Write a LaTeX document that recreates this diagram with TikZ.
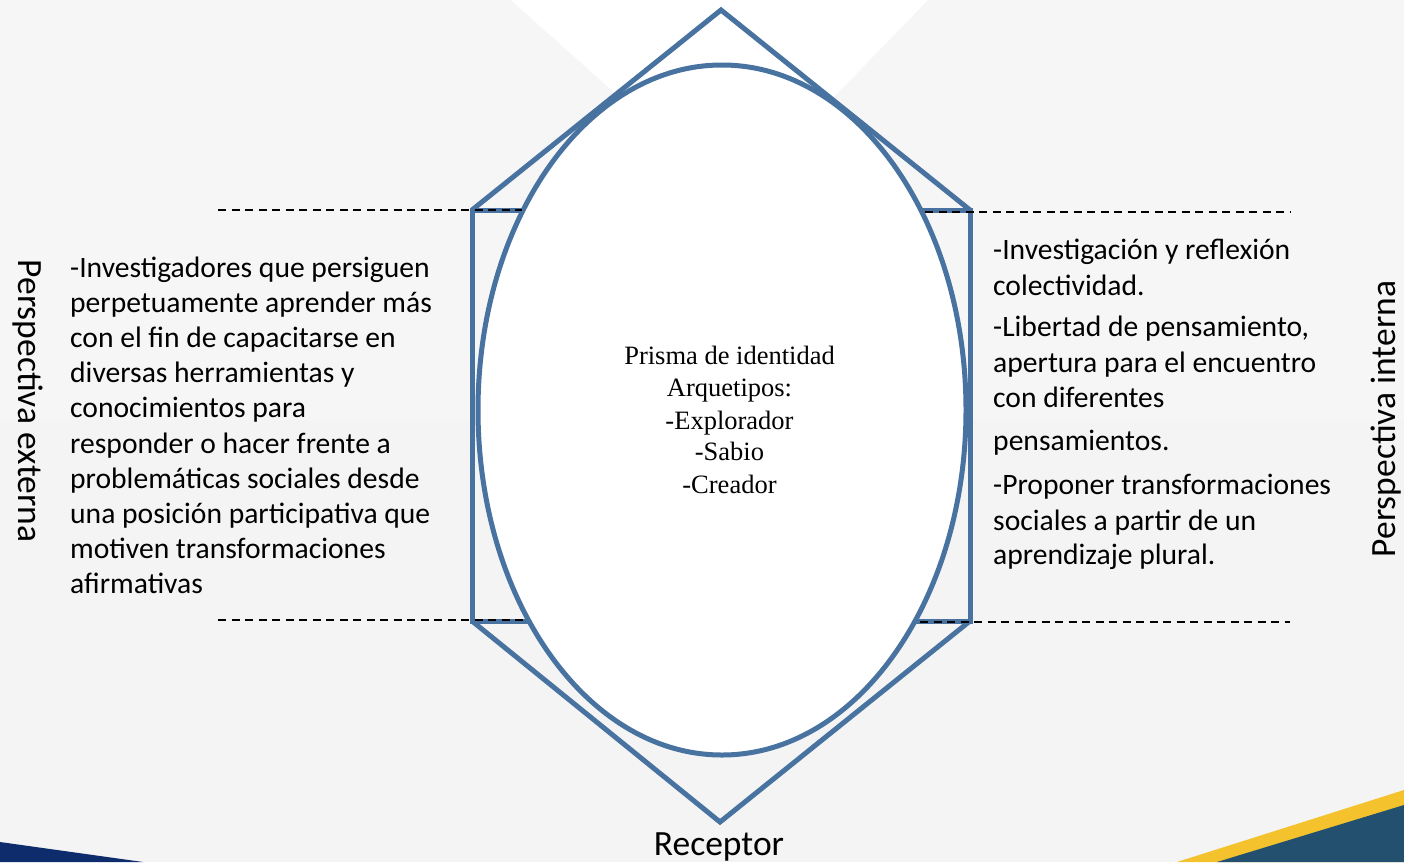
\documentclass[tikz,border=0pt]{standalone}
\usepackage{fontspec}
\setmainfont{Carlito}
\newfontfamily\timesf{Liberation Serif}
\usetikzlibrary{shapes.geometric}
\definecolor{bg}{HTML}{F4F4F4}
\definecolor{bglight}{HTML}{F6F6F6}
\definecolor{prism}{HTML}{4873A0}
\definecolor{navy}{HTML}{0E2C6C}
\definecolor{gold}{HTML}{F3C22C}
\definecolor{teal}{HTML}{23506F}
\tikzset{
  prismline/.style={draw=prism, line width=5pt, line join=miter},
  guide/.style={draw=black, line width=1.6pt, dash pattern=on 8pt off 5.5pt},
  bodytext/.style={inner sep=0pt, anchor=base west, font=\fontsize{29.6}{35}\selectfont},
  sidelabel/.style={inner sep=0pt, font=\fontsize{35.5}{40}\selectfont},
  centertext/.style={inner sep=0pt, anchor=base, font=\timesf\fontsize{26.5}{32}\selectfont}
}
\begin{document}
\begin{tikzpicture}[x=1pt,y=-1pt]
% background
\fill[bg] (0,0) rectangle (1404,862);
\useasboundingbox (0,0) rectangle (1404,862);
\fill[bglight] (0,0) -- (1404,0) -- (1404,420) -- (0,420) -- cycle;
\fill[white] (511,0) -- (928,0) -- (734,200) -- cycle;
\fill[navy] (0,842) -- (143,862) -- (0,862) -- cycle;
\fill[gold] (1404,790) -- (1404,862) -- (1177,862) -- cycle;
\fill[teal] (1404,805) -- (1404,862) -- (1217,862) -- cycle;

% prism outline
\coordinate (apexT) at (721,10);
\coordinate (apexB) at (720,822);
\coordinate (tl) at (472,210);
\coordinate (tr) at (970,210);
\coordinate (bl) at (472,621);
\coordinate (br) at (970,621);
\draw[prismline] (tl) rectangle (br);
\draw[prismline] (tl) -- (apexT) -- (tr);
\draw[prismline] (bl) -- (apexB) -- (br);
\node[prismline, fill=white, ellipse, minimum width=488pt, minimum height=690pt, inner sep=0pt] (prisma) at (722,410) {};

% dashed guides
\coordinate (g1a) at (218,210); \coordinate (g1b) at (522,210);
\coordinate (g2a) at (925,212); \coordinate (g2b) at (1290,212);
\coordinate (g3a) at (218,620); \coordinate (g3b) at (525,620);
\coordinate (g4a) at (920,622); \coordinate (g4b) at (1290,622);
\draw[guide] (g1a) -- (g1b);
\draw[guide] (g2a) -- (g2b);
\draw[guide] (g3a) -- (g3b);
\draw[guide] (g4a) -- (g4b);

% center text
\foreach \yy/\t [count=\i] in {364/Prisma de identidad, 396/Arquetipos:, 429/-Explorador, 460/-Sabio, 493/-Creador}
  \node[centertext] (c\i) at (729.5,\yy) {\t};

% left text
\foreach \yy/\t [count=\i] in {277/-Investigadores que persiguen, 312/perpetuamente aprender más, 347/con el fin de capacitarse en, 382/diversas herramientas y, 417/conocimientos para, 453/responder o hacer frente a, 488/problemáticas sociales desde, 523/una posición participativa que, 558/motiven transformaciones, 593/afirmativas}
  \node[bodytext] (l\i) at (70,\yy) {\t};

% right text
\foreach \yy/\t [count=\i] in {259/-Investigación y reflexión, 295/colectividad., 336/{-Libertad de pensamiento,}, 372/apertura para el encuentro, 407/con diferentes, 450/pensamientos., 494/-Proponer transformaciones, 530/sociales a partir de un, 564/aprendizaje plural.}
  \node[bodytext] (r\i) at (993,\yy) {\t};

% side labels
\node[sidelabel, rotate=-90] (ext) at (28,401) {Perspectiva externa};
\node[sidelabel, rotate=90] (int) at (1386,419) {Perspectiva interna};
\node[sidelabel, anchor=base] (rec) at (719,855) {Receptor};
\end{tikzpicture}
\end{document}
